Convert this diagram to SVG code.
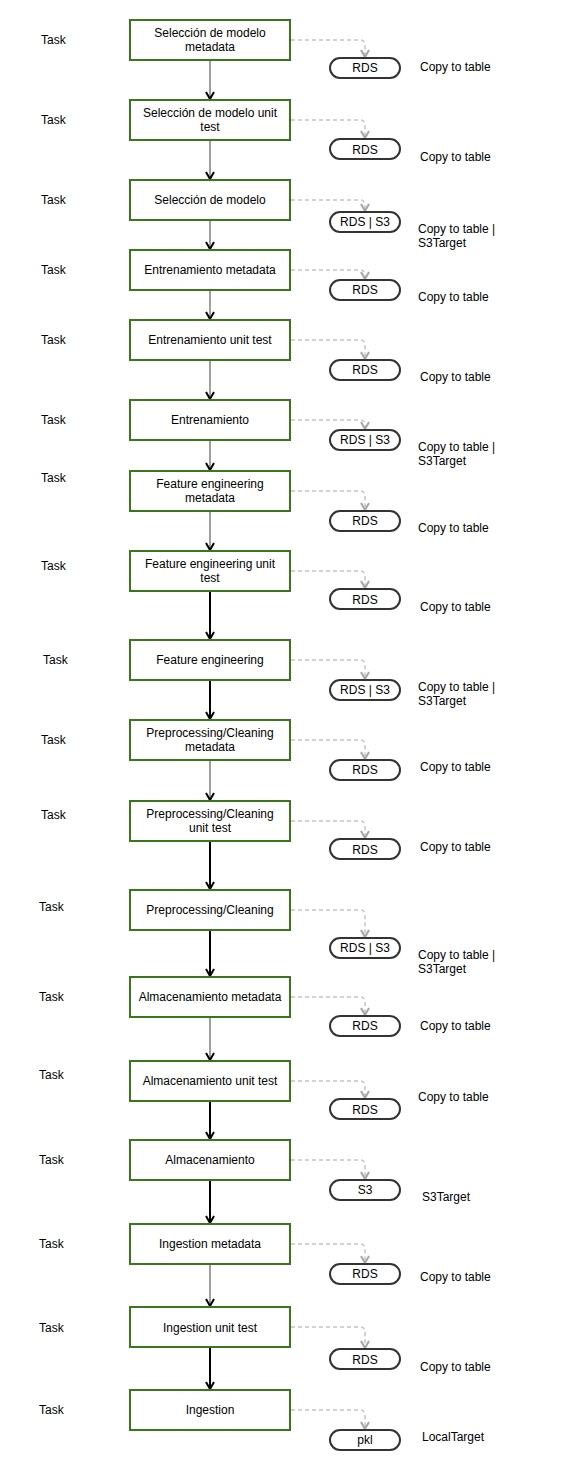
<svg xmlns="http://www.w3.org/2000/svg" width="569" height="1470" viewBox="0 0 569 1470">
<style>
text{font-family:"Liberation Sans",Arial,sans-serif;font-size:12px;fill:#000}
.box{fill:#fff;stroke:#3a761b;stroke-width:2}
.pill{fill:#fff;stroke:#333;stroke-width:2}
.c{text-anchor:middle}
.g{fill:none;stroke:#808080;stroke-width:1.5}
.k{fill:none;stroke:#000;stroke-width:2}
.d{fill:none;stroke:#c4c4c4;stroke-width:1.5;stroke-dasharray:4 3}
</style>
<defs>
<marker id="ak" markerUnits="userSpaceOnUse" viewBox="0 0 10 10" refX="9" refY="5" markerWidth="10" markerHeight="10" orient="auto"><path d="M2,1 L9,5 L2,9" fill="none" stroke="#000" stroke-width="2"/></marker>
<marker id="ag" markerUnits="userSpaceOnUse" viewBox="0 0 10 10" refX="9" refY="5" markerWidth="10" markerHeight="10" orient="auto"><path d="M2,1 L9,5 L2,9" fill="none" stroke="#a6a6a6" stroke-width="2"/></marker>
</defs>
<rect width="569" height="1470" fill="#fff"/>
<g id="connectors">
<path class="g" d="M210,60V99" marker-end="url(#ak)"/>
<path class="g" d="M210,140V179" marker-end="url(#ak)"/>
<path class="g" d="M210,220V249" marker-end="url(#ak)"/>
<path class="g" d="M210,290V319" marker-end="url(#ak)"/>
<path class="g" d="M210,360V399" marker-end="url(#ak)"/>
<path class="g" d="M210,440V470" marker-end="url(#ak)"/>
<path class="g" d="M210,511V550" marker-end="url(#ak)"/>
<path class="k" d="M210,591V639" marker-end="url(#ak)"/>
<path class="k" d="M210,680V719" marker-end="url(#ak)"/>
<path class="g" d="M210,760V800" marker-end="url(#ak)"/>
<path class="k" d="M210,841V889" marker-end="url(#ak)"/>
<path class="k" d="M210,930V976" marker-end="url(#ak)"/>
<path class="g" d="M210,1017V1060" marker-end="url(#ak)"/>
<path class="k" d="M210,1101V1139" marker-end="url(#ak)"/>
<path class="k" d="M210,1180V1223" marker-end="url(#ak)"/>
<path class="g" d="M210,1264V1306" marker-end="url(#ak)"/>
<path class="k" d="M210,1347V1389" marker-end="url(#ak)"/>
<path class="d" d="M291,40H360Q365,40 365,46V57" marker-end="url(#ag)"/>
<path class="d" d="M291,120H360Q365,120 365,126V138" marker-end="url(#ag)"/>
<path class="d" d="M291,200H360Q365,200 365,206V211" marker-end="url(#ag)"/>
<path class="d" d="M291,270H360Q365,270 365,276V279" marker-end="url(#ag)"/>
<path class="d" d="M291,340H360Q365,340 365,346V359" marker-end="url(#ag)"/>
<path class="d" d="M291,420H360Q365,420 365,426V429" marker-end="url(#ag)"/>
<path class="d" d="M291,491H360Q365,491 365,497V510" marker-end="url(#ag)"/>
<path class="d" d="M291,571H360Q365,571 365,577V588" marker-end="url(#ag)"/>
<path class="d" d="M291,660H360Q365,660 365,666V679" marker-end="url(#ag)"/>
<path class="d" d="M291,740H360Q365,740 365,746V759" marker-end="url(#ag)"/>
<path class="d" d="M291,821H360Q365,821 365,827V838" marker-end="url(#ag)"/>
<path class="d" d="M291,910H360Q365,910 365,916V937" marker-end="url(#ag)"/>
<path class="d" d="M291,997H360Q365,997 365,1003V1015" marker-end="url(#ag)"/>
<path class="d" d="M291,1081H360Q365,1081 365,1087V1098" marker-end="url(#ag)"/>
<path class="d" d="M291,1160H360Q365,1160 365,1166V1179" marker-end="url(#ag)"/>
<path class="d" d="M291,1244H360Q365,1244 365,1250V1263" marker-end="url(#ag)"/>
<path class="d" d="M291,1327H360Q365,1327 365,1333V1348" marker-end="url(#ag)"/>
<path class="d" d="M291,1410H360Q365,1410 365,1416V1429" marker-end="url(#ag)"/>
</g>
<g id="n1"><text x="41" y="44">Task</text><rect class="box" x="130" y="20" width="160" height="40"/><text class="c" x="210" y="37">Selección de modelo</text><text class="c" x="210" y="51">metadata</text><rect class="pill" x="330" y="58" width="70" height="20" rx="10"/><text class="c" x="365" y="72">RDS</text><text x="420" y="71">Copy to table</text></g>
<g id="n2"><text x="41" y="124">Task</text><rect class="box" x="130" y="100" width="160" height="40"/><text class="c" x="210" y="117">Selección de modelo unit</text><text class="c" x="210" y="131">test</text><rect class="pill" x="330" y="139" width="70" height="20" rx="10"/><text class="c" x="365" y="154">RDS</text><text x="420" y="161">Copy to table</text></g>
<g id="n3"><text x="41" y="204">Task</text><rect class="box" x="130" y="180" width="160" height="40"/><text class="c" x="210" y="204">Selección de modelo</text><rect class="pill" x="330" y="212" width="70" height="20" rx="10"/><text class="c" x="365" y="226">RDS | S3</text><text x="418" y="233">Copy to table |</text><text x="418" y="247">S3Target</text></g>
<g id="n4"><text x="41" y="274">Task</text><rect class="box" x="130" y="250" width="160" height="40"/><text class="c" x="210" y="274">Entrenamiento metadata</text><rect class="pill" x="330" y="280" width="70" height="20" rx="10"/><text class="c" x="365" y="294">RDS</text><text x="418" y="301">Copy to table</text></g>
<g id="n5"><text x="41" y="344">Task</text><rect class="box" x="130" y="320" width="160" height="40"/><text class="c" x="210" y="344">Entrenamiento unit test</text><rect class="pill" x="330" y="360" width="70" height="20" rx="10"/><text class="c" x="365" y="374">RDS</text><text x="420" y="381">Copy to table</text></g>
<g id="n6"><text x="41" y="424">Task</text><rect class="box" x="130" y="400" width="160" height="40"/><text class="c" x="210" y="424">Entrenamiento</text><rect class="pill" x="330" y="430" width="70" height="20" rx="10"/><text class="c" x="365" y="444">RDS | S3</text><text x="418" y="451">Copy to table |</text><text x="418" y="465">S3Target</text></g>
<g id="n7"><text x="41" y="482">Task</text><rect class="box" x="130" y="471" width="160" height="40"/><text class="c" x="210" y="488">Feature engineering</text><text class="c" x="210" y="502">metadata</text><rect class="pill" x="330" y="511" width="70" height="20" rx="10"/><text class="c" x="365" y="525">RDS</text><text x="418" y="532">Copy to table</text></g>
<g id="n8"><text x="41" y="570">Task</text><rect class="box" x="130" y="551" width="160" height="40"/><text class="c" x="210" y="568">Feature engineering unit</text><text class="c" x="210" y="582">test</text><rect class="pill" x="330" y="589" width="70" height="20" rx="10"/><text class="c" x="365" y="604">RDS</text><text x="420" y="611">Copy to table</text></g>
<g id="n9"><text x="43" y="664">Task</text><rect class="box" x="130" y="640" width="160" height="40"/><text class="c" x="210" y="664">Feature engineering</text><rect class="pill" x="330" y="680" width="70" height="20" rx="10"/><text class="c" x="365" y="694">RDS | S3</text><text x="418" y="691">Copy to table |</text><text x="418" y="705">S3Target</text></g>
<g id="n10"><text x="41" y="744">Task</text><rect class="box" x="130" y="720" width="160" height="40"/><text class="c" x="210" y="737">Preprocessing/Cleaning</text><text class="c" x="210" y="751">metadata</text><rect class="pill" x="330" y="760" width="70" height="20" rx="10"/><text class="c" x="365" y="774">RDS</text><text x="420" y="771">Copy to table</text></g>
<g id="n11"><text x="41" y="819">Task</text><rect class="box" x="130" y="801" width="160" height="40"/><text class="c" x="210" y="818">Preprocessing/Cleaning</text><text class="c" x="210" y="832">unit test</text><rect class="pill" x="330" y="839" width="70" height="20" rx="10"/><text class="c" x="365" y="854">RDS</text><text x="420" y="851">Copy to table</text></g>
<g id="n12"><text x="39" y="911">Task</text><rect class="box" x="130" y="890" width="160" height="40"/><text class="c" x="210" y="914">Preprocessing/Cleaning</text><rect class="pill" x="330" y="938" width="70" height="20" rx="10"/><text class="c" x="365" y="952">RDS | S3</text><text x="418" y="959">Copy to table |</text><text x="418" y="973">S3Target</text></g>
<g id="n13"><text x="39" y="1001">Task</text><rect class="box" x="130" y="977" width="160" height="40"/><text class="c" x="210" y="1001">Almacenamiento metadata</text><rect class="pill" x="330" y="1016" width="70" height="20" rx="10"/><text class="c" x="365" y="1030">RDS</text><text x="420" y="1030">Copy to table</text></g>
<g id="n14"><text x="39" y="1079">Task</text><rect class="box" x="130" y="1061" width="160" height="40"/><text class="c" x="210" y="1085">Almacenamiento unit test</text><rect class="pill" x="330" y="1099" width="70" height="20" rx="10"/><text class="c" x="365" y="1114">RDS</text><text x="418" y="1101">Copy to table</text></g>
<g id="n15"><text x="39" y="1164">Task</text><rect class="box" x="130" y="1140" width="160" height="40"/><text class="c" x="210" y="1164">Almacenamiento</text><rect class="pill" x="330" y="1180" width="70" height="20" rx="10"/><text class="c" x="365" y="1194">S3</text><text x="422" y="1201">S3Target</text></g>
<g id="n16"><text x="39" y="1248">Task</text><rect class="box" x="130" y="1224" width="160" height="40"/><text class="c" x="210" y="1248">Ingestion metadata</text><rect class="pill" x="330" y="1264" width="70" height="20" rx="10"/><text class="c" x="365" y="1278">RDS</text><text x="420" y="1281">Copy to table</text></g>
<g id="n17"><text x="39" y="1332">Task</text><rect class="box" x="130" y="1307" width="160" height="40"/><text class="c" x="210" y="1332">Ingestion unit test</text><rect class="pill" x="330" y="1349" width="70" height="20" rx="10"/><text class="c" x="365" y="1364">RDS</text><text x="420" y="1371">Copy to table</text></g>
<g id="n18"><text x="39" y="1414">Task</text><rect class="box" x="130" y="1390" width="160" height="40"/><text class="c" x="210" y="1414">Ingestion</text><rect class="pill" x="330" y="1430" width="70" height="20" rx="10"/><text class="c" x="365" y="1444">pkl</text><text x="422" y="1441">LocalTarget</text></g>
</svg>
